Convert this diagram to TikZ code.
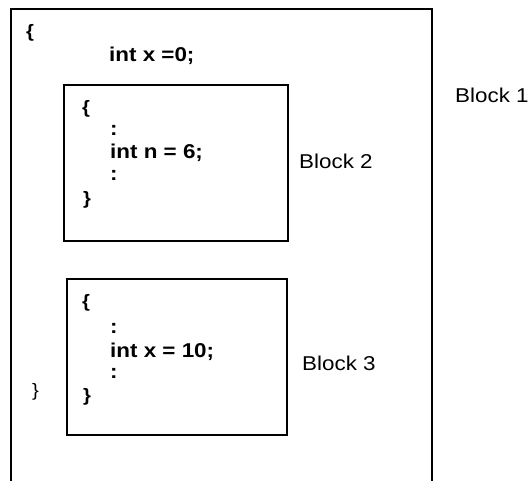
\documentclass[tikz,border=0pt]{standalone}
\usepackage{fontspec}
\setmainfont{Liberation Sans}[FakeStretch=1.12]
\begin{document}
\begin{tikzpicture}[x=1pt,y=-1pt,
  box/.style={draw,line width=1.6pt,rectangle,inner sep=0pt,anchor=north west},
  code/.style={font=\fontsize{20}{24}\selectfont\bfseries,inner sep=0pt,anchor=base west},
  brace/.style={font=\fontsize{18}{22}\selectfont\bfseries,inner sep=0pt,anchor=west},
  lbl/.style={font=\fontsize{20}{24}\selectfont,inner sep=0pt,anchor=base west}]
\useasboundingbox (0,0) rectangle (528,480);
\clip (0,0) rectangle (528,480);
% outer block
\node[box,minimum width=421pt,minimum height=485pt] (b1) at (10,8) {};
% block 2
\node[box,minimum width=224pt,minimum height=156pt] (b2) at (63,84) {};
% block 3
\node[box,minimum width=220pt,minimum height=156pt] (b3) at (66,278) {};
% outer code
\node[brace] (o1) at (26,33) {\{};
\node[code] (ox) at (109,61) {int x =0;};
\node[brace,font=\fontsize{18}{22}\selectfont] (o2) at (32,392) {\}};
% block 2 code
\node[brace] (a1) at (82,109) {\{};
\node[code] (a2) at (110,135) {:};
\node[code] (a3) at (110,158) {int n = 6;};
\node[code] (a4) at (110,180) {:};
\node[brace] (a5) at (83,200) {\}};
% block 3 code
\node[brace] (c1) at (82,303) {\{};
\node[code] (c2) at (110,333) {:};
\node[code] (c3) at (110,357) {int x = 10;};
\node[code] (c4) at (110,378) {:};
\node[brace] (c5) at (83,397) {\}};
% labels
\node[lbl] (l1) at (455,102) {Block 1};
\node[lbl] (l2) at (299,168) {Block 2};
\node[lbl] (l3) at (302,370) {Block 3};
\end{tikzpicture}
\end{document}
